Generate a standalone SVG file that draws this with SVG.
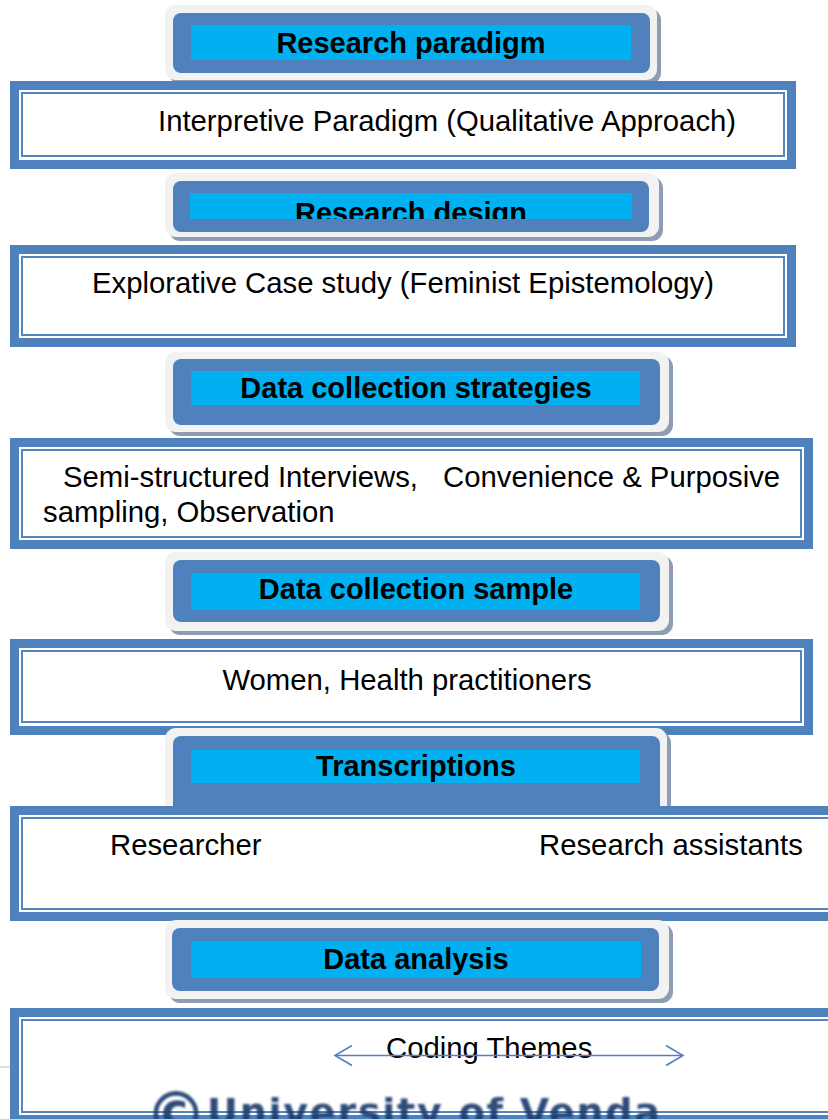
<svg xmlns="http://www.w3.org/2000/svg" width="828" height="1119" viewBox="0 0 828 1119">
  <style>
    .hd-shadow { fill: #8E9DB3; }
    .hd-frame { fill: #F2F2F2; }
    .hd-body { fill: #4F81BD; }
    .hd-band { fill: #00B0F0; }
    .hd-text { font-family: "Liberation Sans", Arial, sans-serif; font-weight: bold; font-size: 29px; fill: #000; text-anchor: middle; }
    .bx-outer { fill: #4F81BD; }
    .bx-gap { fill: #FFFFFF; }
    .bx-line { fill: #FFFFFF; stroke: #5585C0; stroke-width: 2; }
    .bx-text { font-family: "Liberation Sans", Arial, sans-serif; font-size: 29.3px; fill: #000; }
    .link { stroke: #4F81BD; stroke-width: 1.6; fill: none; }
    .mark { font-family: "DejaVu Sans", Verdana, sans-serif; font-weight: bold; fill: #1E3D6E; }
  </style>
  <defs>
    <clipPath id="band2">
      <rect x="190" y="193" width="442" height="26"/>
    </clipPath>
    <!-- open chevron head; tip sits on the line end -->
    <marker id="chevron" viewBox="-1 0 20 22" refX="17" refY="11" markerWidth="20" markerHeight="22" markerUnits="userSpaceOnUse" orient="auto-start-reverse">
      <polyline points="0,1 17,11 0,21" fill="none" stroke="#4F81BD" stroke-width="1.6"/>
    </marker>
    <filter id="soft" x="-5%" y="-20%" width="110%" height="140%">
      <feGaussianBlur stdDeviation="0.8"/>
    </filter>
  </defs>

  <rect width="828" height="1119" fill="#FFFFFF"/>

  <!-- Research paradigm -->
  <g id="head-paradigm">
    <rect class="hd-shadow" x="169" y="9" width="492" height="75" rx="11"/>
    <rect class="hd-frame" x="165" y="5" width="492" height="75" rx="11"/>
    <rect class="hd-body" x="173" y="13" width="477" height="60" rx="8"/>
    <rect class="hd-band" x="191" y="25" width="440" height="35"/>
    <text class="hd-text" x="411" y="53">Research paradigm</text>
  </g>

  <g id="box-paradigm">
    <rect class="bx-outer" x="10" y="81" width="786" height="88"/>
    <rect class="bx-gap" x="19" y="90" width="768" height="70"/>
    <rect class="bx-line" x="22" y="93" width="762" height="63"/>
    <text class="bx-text" x="158" y="131">Interpretive Paradigm (Qualitative Approach)</text>
  </g>

  <!-- Research design -->
  <g id="head-design">
    <rect class="hd-shadow" x="169" y="177" width="494" height="64" rx="11"/>
    <rect class="hd-frame" x="165" y="173" width="494" height="64" rx="11"/>
    <rect class="hd-body" x="173" y="181" width="476" height="51" rx="8"/>
    <rect class="hd-band" x="190" y="193" width="442" height="26"/>
    <text class="hd-text" x="411" y="223" clip-path="url(#band2)">Research design</text>
  </g>

  <g id="box-design">
    <rect class="bx-outer" x="10" y="245" width="786" height="102"/>
    <rect class="bx-gap" x="19" y="254" width="768" height="84"/>
    <rect class="bx-line" x="22" y="257" width="762" height="78"/>
    <text class="bx-text" x="92" y="293">Explorative Case study (Feminist Epistemology)</text>
  </g>

  <!-- Data collection strategies -->
  <g id="head-strategies">
    <rect class="hd-shadow" x="169" y="356" width="504" height="80" rx="11"/>
    <rect class="hd-frame" x="165" y="352" width="504" height="80" rx="11"/>
    <rect class="hd-body" x="173" y="359" width="487" height="66" rx="8"/>
    <rect class="hd-band" x="191" y="371" width="449" height="34"/>
    <text class="hd-text" x="416" y="398">Data collection strategies</text>
  </g>

  <g id="box-strategies">
    <rect class="bx-outer" x="10" y="438" width="803" height="111"/>
    <rect class="bx-gap" x="19" y="447" width="785" height="93"/>
    <rect class="bx-line" x="22" y="450" width="779" height="87"/>
    <text class="bx-text" y="487"><tspan x="63">Semi-structured Interviews,</tspan><tspan x="443">Convenience &amp; Purposive</tspan></text>
    <text class="bx-text" x="43" y="522">sampling, Observation</text>
  </g>

  <!-- Data collection sample -->
  <g id="head-sample">
    <rect class="hd-shadow" x="169" y="556" width="504" height="79" rx="11"/>
    <rect class="hd-frame" x="165" y="552" width="504" height="79" rx="11"/>
    <rect class="hd-body" x="173" y="560" width="487" height="62" rx="8"/>
    <rect class="hd-band" x="191" y="573" width="449" height="37"/>
    <text class="hd-text" x="416" y="599">Data collection sample</text>
  </g>

  <g id="box-sample">
    <rect class="bx-outer" x="10" y="639" width="803" height="96"/>
    <rect class="bx-gap" x="19" y="648" width="785" height="78"/>
    <rect class="bx-line" x="22" y="651" width="779" height="71"/>
    <text class="bx-text" x="407" y="690" text-anchor="middle">Women, Health practitioners</text>
  </g>

  <!-- Transcriptions -->
  <g id="head-transcriptions">
    <rect class="hd-shadow" x="169" y="732" width="502" height="90" rx="11"/>
    <rect class="hd-frame" x="165" y="728" width="502" height="90" rx="11"/>
    <rect class="hd-body" x="173" y="736" width="487" height="80" rx="8"/>
    <rect class="hd-band" x="191" y="750" width="449" height="33"/>
    <text class="hd-text" x="416" y="776">Transcriptions</text>
  </g>

  <g id="box-transcriptions">
    <rect class="bx-outer" x="10" y="806" width="830" height="115"/>
    <rect class="bx-gap" x="19" y="815" width="830" height="97"/>
    <rect class="bx-line" x="22" y="818" width="830" height="91"/>
    <text class="bx-text" x="110" y="855">Researcher</text>
    <text class="bx-text" x="539" y="855">Research assistants</text>
  </g>

  <!-- Data analysis -->
  <g id="head-analysis">
    <rect class="hd-shadow" x="169" y="924" width="504" height="79" rx="11"/>
    <rect class="hd-frame" x="165" y="920" width="504" height="79" rx="11"/>
    <rect class="hd-body" x="172" y="928" width="487" height="63" rx="8"/>
    <rect class="hd-band" x="191" y="941" width="450" height="37"/>
    <text class="hd-text" x="416" y="969">Data analysis</text>
  </g>

  <g id="box-analysis">
    <rect class="bx-outer" x="10" y="1008" width="830" height="116"/>
    <rect class="bx-gap" x="19" y="1017" width="830" height="98"/>
    <rect class="bx-line" x="22" y="1020" width="830" height="92"/>
    <text class="bx-text" x="386" y="1058">Coding Themes</text>
  </g>

  <!-- double-headed arrow across the coding label -->
  <g id="connectors">
    <line class="link" x1="335" y1="1055.5" x2="683" y2="1055.5" marker-start="url(#chevron)" marker-end="url(#chevron)"/>
  </g>

  <!-- page edge tick -->
  <line x1="0" y1="1067" x2="10" y2="1067" stroke="#D4D4D4" stroke-width="1.5"/>

  <!-- watermark -->
  <g id="watermark" filter="url(#soft)" opacity="0.92">
    <text class="mark" x="145" y="1136" font-size="62">©</text>
    <text class="mark" x="207" y="1125" font-size="38" textLength="453" lengthAdjust="spacing">University of Venda</text>
  </g>
</svg>
